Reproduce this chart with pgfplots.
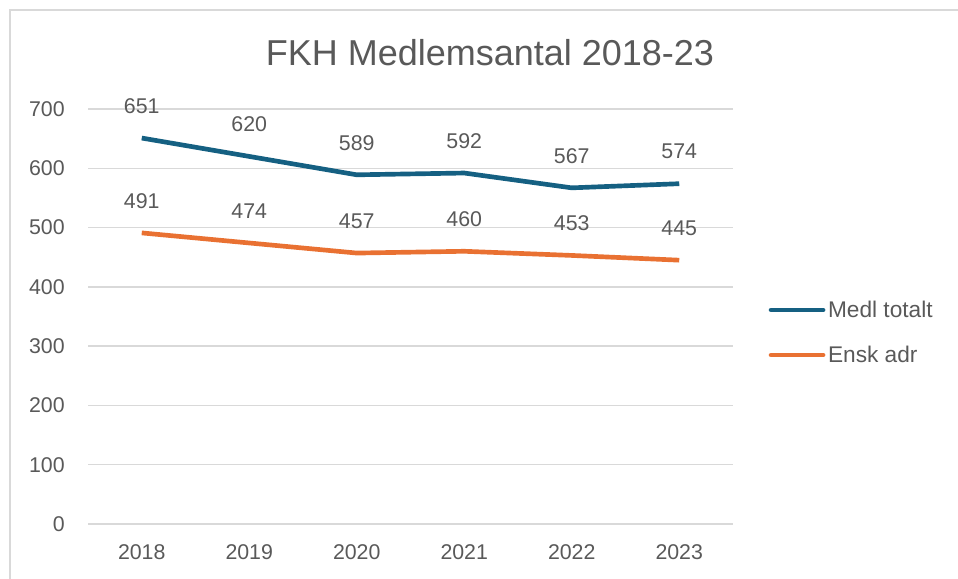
\documentclass[border=0pt]{standalone}
\usepackage{pgfplots}
\pgfplotsset{compat=1.18}
\usepackage{fontspec}
\setmainfont{Liberation Sans}
\definecolor{cblue}{HTML}{156082}
\definecolor{corange}{HTML}{E97132}
\definecolor{tgray}{HTML}{595959}
\definecolor{ggray}{HTML}{D9D9D9}
\begin{document}
\begin{tikzpicture}[x=0.75pt,y=0.75pt]
\path[use as bounding box] (0,0) rectangle (958,579);
\draw[ggray, line width=1.5pt] (10,-10) -- (10,569) -- (970,569);
\node[text=tgray, font=\fontsize{27}{31}\selectfont] at (490,526) {FKH Medlemsantal 2018-23};
\begin{axis}[
  at={(66pt,41.25pt)}, anchor=south west,
  scale only axis,
  width=483.75pt, height=311.25pt,
  xmin=-0.5, xmax=5.5, ymin=0, ymax=700,
  xtick={0,1,2,3,4,5},
  xticklabels={2018,2019,2020,2021,2022,2023},
  ytick={0,100,200,300,400,500,600,700},
  ymajorgrids, major grid style={ggray, line width=1pt},
  axis line style={draw=none},
  axis x line*=bottom,
  x axis line style={ggray, line width=1pt},
  tick style={draw=none},
  ticklabel style={text=tgray, font=\fontsize{16}{19}\selectfont},
  /pgf/number format/assume math mode=true,
  /pgf/number format/1000 sep={},
  xticklabel style={yshift=-12pt},
  yticklabel style={xshift=-14pt},
  legend style={at={(rel axis cs:1.055,0.545)}, anchor=north west, draw=none, fill=none,
    font=\fontsize{17}{20}\selectfont, text=tgray, row sep=16pt, inner sep=0pt},
  legend cell align=left,
  legend image code/.code={\draw[#1, line cap=round] (0pt,0pt) -- (39pt,0pt);},
  nodes near coords,
  nodes near coords style={text=tgray, font=\fontsize{16}{19}\selectfont, anchor=center, yshift=24pt, /pgf/number format/assume math mode=true},
  every axis plot/.append style={line width=3.5pt, mark=none, line join=round},
]
\addplot[cblue] coordinates {(0,651) (1,620) (2,589) (3,592) (4,567) (5,574)};
\addlegendentry{Medl totalt}
\addplot[corange] coordinates {(0,491) (1,474) (2,457) (3,460) (4,453) (5,445)};
\addlegendentry{Ensk adr}
\end{axis}
\end{tikzpicture}
\end{document}
